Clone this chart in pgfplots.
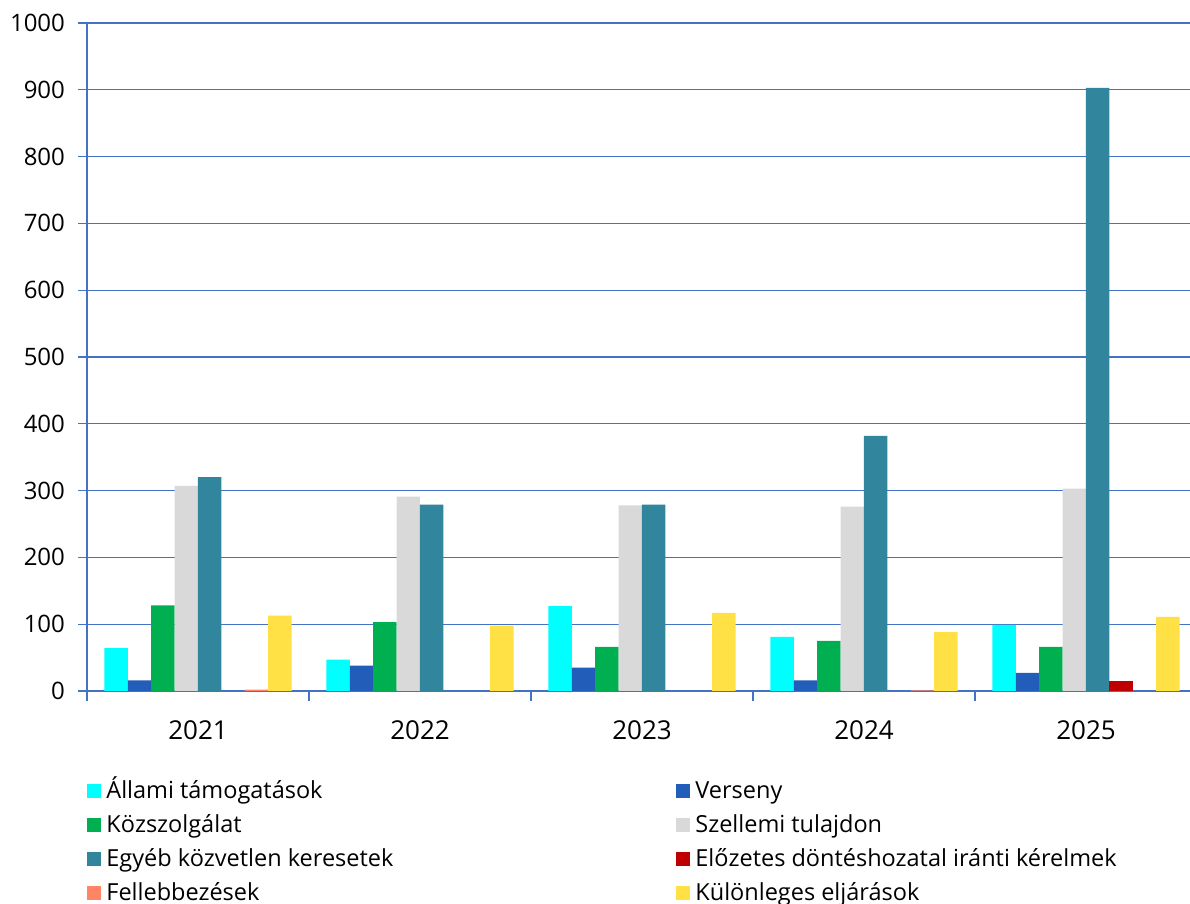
\documentclass[border=0pt]{standalone}
\usepackage{fontspec}
\setmainfont{Open Sans}
\usepackage{pgfplots}
\pgfplotsset{compat=1.18}
\definecolor{axblue}{RGB}{68,114,196}
\definecolor{c-state}{HTML}{00FFFF}
\definecolor{c-comp}{HTML}{225EB9}
\definecolor{c-public}{HTML}{00AF50}
\definecolor{c-ip}{HTML}{D9D9D9}
\definecolor{c-other}{HTML}{31859C}
\definecolor{c-prelim}{HTML}{C00000}
\definecolor{c-appeal}{HTML}{FF8566}
\definecolor{c-special}{HTML}{FFE045}

\begin{document}
\begin{tikzpicture}
\useasboundingbox (-43.5pt,-106.5pt) rectangle (551.5pt,345.5pt);
\begin{axis}[
    at={(0pt,0pt)}, anchor=south west,
    scale only axis, width=555pt, height=334pt,
    ybar=0pt, bar width=11.7pt,
    xmin=-0.5, xmax=4.5, ymin=0, ymax=1000,
    ytick={0,100,...,1000},
    xtick={0,1,2,3,4},
    xticklabels={2021,2022,2023,2024,2025},
    minor xtick={-0.5,0.5,1.5,2.5,3.5,4.5},
    axis x line*=bottom, axis y line*=left,
    axis line style={axblue, line width=0.6pt},
    ymajorgrids, grid style={axblue, line width=0.6pt},
    tick align=outside,
    major tick length=4.5pt, minor tick length=5pt,
    major x tick style={draw=none},
    minor x tick style={axblue, line width=0.6pt},
    ytick style={axblue, line width=0.6pt},
    /pgf/number format/assume math mode=true,
    /pgf/number format/1000 sep={},
    yticklabel style={font=\fontsize{12}{14}\selectfont, xshift=-3pt},
    xticklabel style={font=\fontsize{13}{15}\selectfont, yshift=-7pt},
    legend columns=2,
    legend cell align=left,
    legend image code/.code={\fill[#1] (0pt,-4pt) rectangle (7pt,3pt);},
    legend style={at={(axis description cs:0,0)}, anchor=north west,
        xshift=-3pt, yshift=-40.5pt, draw=none, fill=none,
        font=\fontsize{11.75}{14}\selectfont,
        nodes={inner sep=0pt, text height=11pt, text depth=3pt},
        row sep=3pt, column sep=0pt,
        /tikz/every odd column/.append style={column sep=2.5pt}},
]
\addplot[fill=c-state, draw=none] coordinates {(0,64) (1,47) (2,127) (3,81) (4,99)};
\addlegendentry{\makebox[285pt][l]{Állami támogatások}}
\addplot[fill=c-comp, draw=none] coordinates {(0,16) (1,38) (2,35) (3,16) (4,27)};
\addlegendentry{Verseny}
\addplot[fill=c-public, draw=none] coordinates {(0,128) (1,103) (2,66) (3,75) (4,66)};
\addlegendentry{\makebox[285pt][l]{Közszolgálat}}
\addplot[fill=c-ip, draw=none] coordinates {(0,307) (1,291) (2,278) (3,276) (4,303)};
\addlegendentry{Szellemi tulajdon}
\addplot[fill=c-other, draw=none] coordinates {(0,320) (1,279) (2,279) (3,382) (4,903)};
\addlegendentry{\makebox[285pt][l]{Egyéb közvetlen keresetek}}
\addplot[fill=c-prelim, draw=none] coordinates {(4,15)};
\addlegendentry{Előzetes döntéshozatal iránti kérelmek}
\addplot[fill=c-appeal, draw=none] coordinates {(0,2) (3,1)};
\addlegendentry{\makebox[285pt][l]{Fellebbezések}}
\addplot[fill=c-special, draw=none] coordinates {(0,113) (1,98) (2,117) (3,88) (4,111)};
\addlegendentry{Különleges eljárások}
\end{axis}
\end{tikzpicture}
\end{document}
